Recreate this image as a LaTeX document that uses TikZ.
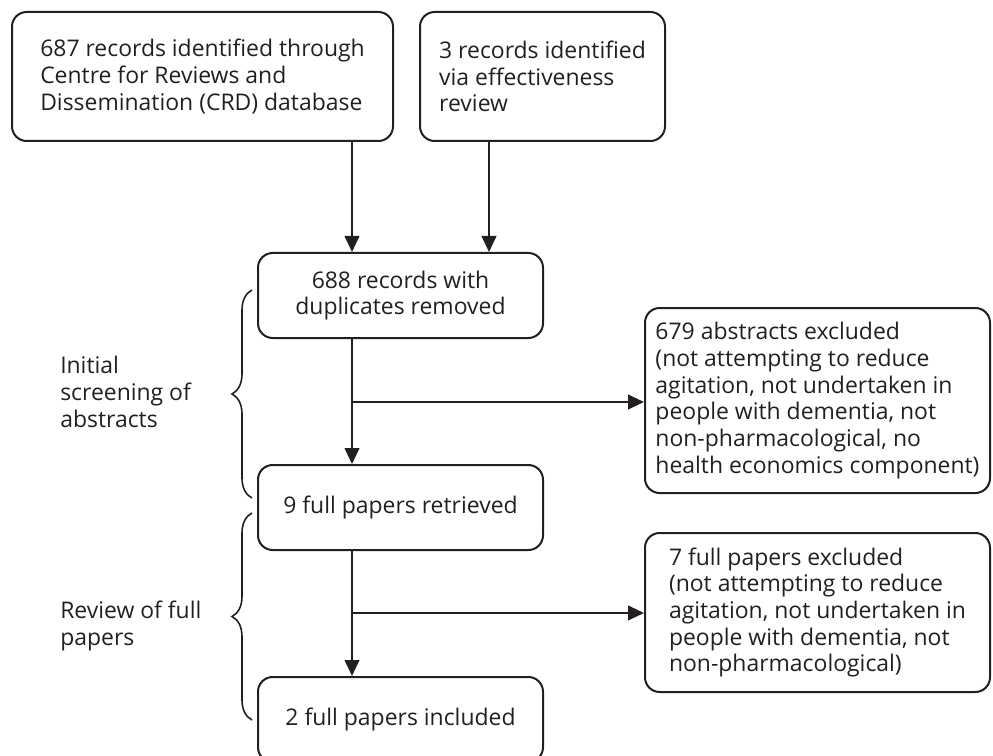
\documentclass[tikz,border=0pt]{standalone}
\usepackage{fontspec}
\setmainfont{Open Sans}
\usetikzlibrary{positioning,arrows.meta,decorations.pathreplacing}
\definecolor{ink}{RGB}{35,31,32}
\tikzset{
  box/.style={draw=ink,rounded corners=11pt,line width=1.5pt,text=ink,font=\fontsize{17.2}{20}\selectfont,inner sep=0pt},
  lbox/.style={box,align=left},
  cbox/.style={box,align=center},
  flow/.style={-{Triangle[length=12pt,width=11pt]},draw=ink,line width=1.5pt},
  stage/.style={text=ink,font=\fontsize{17.2}{20}\selectfont,align=left,inner sep=0pt},
  stagebrace/.style={draw=ink,line width=1.2pt,decorate,decoration={brace,amplitude=15pt}},
}

\begin{document}
\begin{tikzpicture}[x=0.75pt,y=-0.75pt]
  \useasboundingbox (0,0) rectangle (993,756);
  % sources
  \node[lbox,minimum width=285.75pt,minimum height=96.75pt] (crd) at (202.5,76.5) {687 records identified through\\Centre for Reviews and\\Dissemination (CRD) database};
  \node[lbox,minimum width=183.75pt,minimum height=96.75pt] (eff) at (542.5,76.5) {3 records identified\\via effectiveness\\review};
  % main column
  \node[cbox,minimum width=213.75pt,minimum height=63.75pt] (dup) at (400.5,295.5) {688 records with\\duplicates removed};
  \node[cbox,minimum width=213.75pt,minimum height=63.75pt] (ret) at (400.5,507.5) {9 full papers retrieved};
  \node[cbox,minimum width=213.75pt,minimum height=63.75pt] (inc) at (400.5,719.5) {2 full papers included};
  % exclusions
  \node[lbox,minimum width=258.75pt,minimum height=138.75pt] (exa) at (817.5,400.5) {679 abstracts excluded\\(not attempting to reduce\\agitation, not undertaken in\\people with dementia, not\\non-pharmacological, no\\health economics component)};
  \node[lbox,minimum width=258.75pt,minimum height=119.25pt] (exf) at (817.5,612.5) {7 full papers excluded\\(not attempting to reduce\\agitation, not undertaken in\\people with dementia, not\\non-pharmacological)};
  % stages
  \node[stage,anchor=west] (scr) at (60,392) {Initial\\screening of\\abstracts};
  \node[stage,anchor=north west] (rev) at (60,601) {Review of full\\papers};
  \draw[stagebrace] (252,498) -- (252,290);
  \draw[stagebrace] (252,720) -- (252,513);
  % arrows
  \coordinate (spine) at (352,0);
  \coordinate (side) at (489,0);
  \coordinate (cut1) at (352,402);
  \coordinate (cut2) at (352,613);
  \draw[flow] (crd.south -| spine) -- (dup.north -| spine);
  \draw[flow] (eff.south -| side) -- (dup.north -| side);
  \draw[flow] (dup.south -| spine) -- (ret.north -| spine);
  \draw[flow] (cut1) -- (cut1 -| exa.west);
  \draw[flow] (ret.south -| spine) -- (inc.north -| spine);
  \draw[flow] (cut2) -- (cut2 -| exf.west);
\end{tikzpicture}
\end{document}
